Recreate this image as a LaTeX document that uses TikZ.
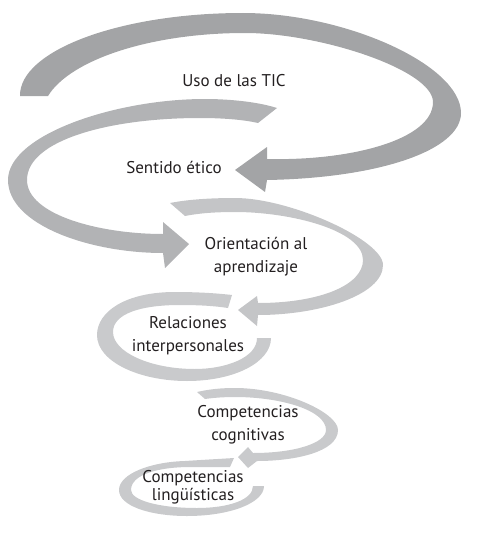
\documentclass[tikz,border=0pt]{standalone}
\usepackage{fontspec}
\setmainfont{PT Sans}
\definecolor{gA}{RGB}{163,164,166}
\definecolor{gB}{RGB}{178,179,181}
\definecolor{gC}{RGB}{196,197,199}
\definecolor{gD}{RGB}{201,202,204}
\definecolor{txt}{RGB}{35,31,32}
\tikzset{
  lbl/.style={text=txt, align=center, inner sep=0pt, font=\fontsize{17}{23}\selectfont},
  lblsm/.style={text=txt, align=center, inner sep=0pt, font=\fontsize{17}{18.5}\selectfont}
}
\begin{document}
\begin{tikzpicture}[x=1pt,y=-1pt]
\useasboundingbox (0,0) rectangle (477,535);
% arrow 1 (Uso de las TIC -> Sentido etico)
\fill[gA] (20,96) .. controls (19,51) and (119,13) .. (243,13)
  .. controls (345,13) and (461,65) .. (461,113)
  .. controls (461,150) and (380,178) .. (267,180)
  -- (265,192) -- (235,170) -- (267,147) -- (267,159)
  .. controls (350,161) and (433,140) .. (433,102)
  .. controls (433,70) and (320,33) .. (245,33)
  .. controls (150,33) and (70,60) .. (48,96) -- cycle;
% arrow 2 (Sentido etico -> Orientacion)
\fill[gB] (277,108) .. controls (255,101) and (225,99) .. (205,99)
  .. controls (115,99) and (8,135) .. (8,180)
  .. controls (8,225) and (90,253) .. (163,253)
  -- (165,268) -- (189,244) -- (163,222) -- (163,234)
  .. controls (100,234) and (27,215) .. (27,180)
  .. controls (27,140) and (110,118) .. (200,118)
  .. controls (225,118) and (245,120) .. (258,123) -- cycle;
% arrow 3 (Orientacion -> Relaciones)
\fill[gC] (170,203) .. controls (190,199) and (215,198) .. (235,198)
  .. controls (290,198) and (383,240) .. (383,265)
  .. controls (383,295) and (320,315) .. (258,315)
  -- (257,326) -- (238,310) -- (257,296) -- (258,303)
  .. controls (320,303) and (363,285) .. (363,260)
  .. controls (363,230) and (290,212) .. (235,212)
  .. controls (210,212) and (195,214) .. (185,216) -- cycle;
% ring 4 (Relaciones)
\fill[gD] (232,295) .. controls (215,293) and (195,292) .. (175,292)
  .. controls (125,292) and (97,312) .. (97,335)
  .. controls (97,362) and (140,381) .. (187,381)
  .. controls (235,381) and (271,362) .. (271,338)
  -- (257,338)
  .. controls (257,358) and (225,369) .. (195,369)
  .. controls (150,369) and (113,352) .. (113,332)
  .. controls (113,314) and (140,305) .. (180,305)
  .. controls (200,305) and (215,306) .. (228,308) -- cycle;
% arrow 5 (Competencias cognitivas -> linguisticas)
\fill[gD] (197,392) .. controls (210,389) and (222,388) .. (235,388)
  .. controls (285,388) and (338,413) .. (338,430)
  .. controls (338,452) and (295,461) .. (257,461)
  -- (248,468) -- (238,457) -- (248,447) -- (253,453)
  .. controls (295,453) and (326,443) .. (326,430)
  .. controls (326,410) and (280,397) .. (235,397)
  .. controls (222,397) and (212,398) .. (205,399) -- cycle;
% ring 6 (Competencias linguisticas)
\fill[gD] (234,458) .. controls (218,459) and (200,460) .. (185,461)
  .. controls (150,462) and (119,474) .. (119,490)
  .. controls (119,506) and (150,516) .. (187,516)
  .. controls (230,516) and (264,503) .. (264,486)
  -- (253,486)
  .. controls (253,500) and (228,508) .. (197,508)
  .. controls (158,508) and (131,500) .. (131,490)
  .. controls (131,474) and (160,467) .. (190,467)
  .. controls (205,467) and (220,467) .. (230,467) -- cycle;
% labels
\node[lbl] (uso) at (234,81) {Uso de las TIC};
\node[lbl] (etico) at (174,167) {Sentido ético};
\node[lbl] (orient) at (256,257) {Orientación al\\aprendizaje};
\node[lbl] (relac) at (188,336) {Relaciones\\interpersonales};
\node[lbl] (cogn) at (248,425) {Competencias\\cognitivas};
\node[lblsm] (ling) at (193,487) {Competencias\\lingüísticas};
\end{tikzpicture}
\end{document}
